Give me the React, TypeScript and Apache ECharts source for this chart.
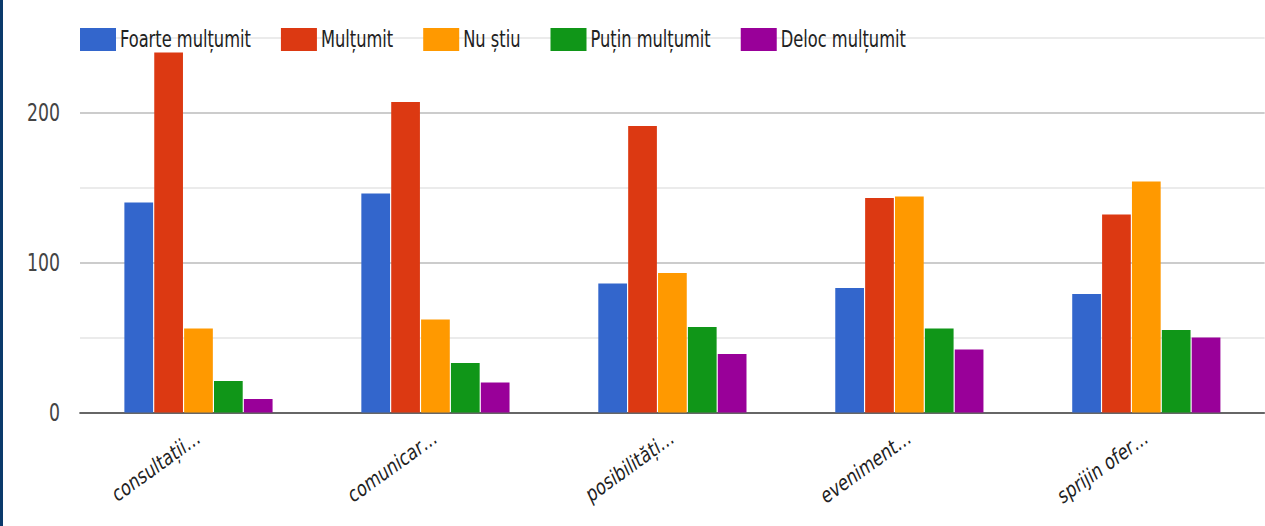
import React, { useEffect, useRef } from "react";
import * as echarts from "echarts";

const categories = ["consultații…", "comunicar…", "posibilități…", "eveniment…", "sprijin ofer…"];
const seriesNames = ["Foarte mulțumit", "Mulțumit", "Nu știu", "Puțin mulțumit", "Deloc mulțumit"];
const foarteMultumit = [140, 146, 86, 83, 79];
const multumit = [240, 207, 191, 143, 132];
const nuStiu = [56, 62, 93, 144, 154];
const putinMultumit = [21, 33, 57, 56, 55];
const delocMultumit = [9, 20, 39, 42, 50];
const colors = ["#3366cc", "#dc3912", "#ff9900", "#109618", "#990099"];
const yTicks = [0, 100, 200];

const FONT = "'DejaVu Sans Condensed', 'DejaVu Sans', Roboto, Arial, sans-serif";
// the reference picture is horizontally condensed; draw wider and squeeze
const K = 0.8;
const W = 1265 / K;
const H = 526;

export default function App() {
  const ref = useRef<HTMLDivElement>(null);
  useEffect(() => {
    if (!ref.current) return;
    const chart = echarts.init(ref.current, undefined, { renderer: "svg" });
    const data = [foarteMultumit, multumit, nuStiu, putinMultumit, delocMultumit];
    chart.setOption({
      animation: false,
      backgroundColor: "#ffffff",
      color: colors,
      graphic: [
        { type: "rect", left: 0, top: 0, shape: { width: 3.75, height: H }, style: { fill: "#0b3a6b" }, z: 100 },
      ],
      legend: {
        left: 95,
        top: 23,
        itemWidth: 45,
        itemHeight: 23,
        itemGap: 37.5,
        icon: "rect",
        textStyle: { fontFamily: FONT, fontSize: 22.6, color: "#222" },
        data: seriesNames,
      },
      grid: { left: 100, right: -13.75, top: 37.5, bottom: 113.5, containLabel: false },
      xAxis: {
        type: "category",
        data: categories,
        axisLine: { show: true, lineStyle: { color: "#666", width: 2 } },
        axisTick: { show: false },
        axisLabel: {
          rotate: 30,
          margin: 23,
          fontFamily: FONT,
          fontSize: 22,
          color: "#222",
          interval: 0,
        },
      },
      yAxis: {
        type: "value",
        min: 0,
        max: 250,
        interval: 50,
        axisLine: { show: false },
        axisTick: { show: false },
        axisLabel: {
          margin: 25,
          fontFamily: FONT,
          fontSize: 24,
          color: "#444",
          formatter: (v: number) => (yTicks.includes(v) ? String(v) : ""),
        },
        splitLine: { show: true, lineStyle: { color: ["#cccccc", "#ebebeb"], width: 2 } },
      },
      series: seriesNames.map((name, i) => ({
        name,
        type: "bar",
        data: data[i],
        barWidth: 35.9,
        barGap: "4%",
        itemStyle: { color: colors[i] },
      })),
    });
    return () => chart.dispose();
  }, []);
  return (
    <div style={{ position: "fixed", left: 0, top: 0, width: 1265, height: 526, overflow: "hidden", background: "#fff" }}>
      <div
        ref={ref}
        style={{ width: W, height: H, transform: `scaleX(${K})`, transformOrigin: "0 0" }}
      />
    </div>
  );
}
